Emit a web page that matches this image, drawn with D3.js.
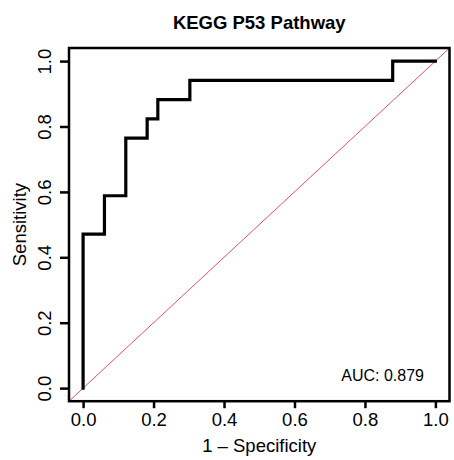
<!DOCTYPE html>
<html>
<head>
<meta charset="utf-8">
<script src="https://cdn.jsdelivr.net/npm/d3@7"></script>
<style>
  html, body { margin: 0; padding: 0; background: #ffffff; }
  svg { display: block; }
  text { font-family: "Liberation Sans", Arial, Helvetica, sans-serif; fill: #000; }
</style>
</head>
<body>
<svg id="chart" width="454" height="460"></svg>
<script>
// ROC curve points (false positive rate, true positive rate)
const fpr = [0, 0, 2/33, 2/33, 4/33, 4/33, 6/33, 6/33, 7/33, 7/33, 10/33, 10/33, 29/33, 29/33, 1];
const tpr = [0, 8/17, 8/17, 10/17, 10/17, 13/17, 13/17, 14/17, 14/17, 15/17, 15/17, 16/17, 16/17, 1, 1];
const tickValues = [0, 0.2, 0.4, 0.6, 0.8, 1.0];
const titleText = "KEGG P53 Pathway";
const xLabel = "1 \u2013 Specificity";
const yLabel = "Sensitivity";
const aucValue = 0.879;

const svg = d3.select("#chart");

// Data range 0..1 with 4% padding on each side, R style
const x = d3.scaleLinear().domain([-0.04, 1.04]).range([69.0, 449.5]);
const y = d3.scaleLinear().domain([-0.04, 1.04]).range([401.2, 48.0]);

const box = { x0: x(-0.04), x1: x(1.04), y0: y(1.04), y1: y(-0.04) };

svg.append("defs").append("clipPath").attr("id", "plotclip")
  .append("rect")
  .attr("x", box.x0).attr("y", box.y0)
  .attr("width", box.x1 - box.x0).attr("height", box.y1 - box.y0);

// Diagonal reference line
svg.append("line")
  .attr("clip-path", "url(#plotclip)")
  .attr("x1", x(-0.04)).attr("y1", y(-0.04))
  .attr("x2", x(1.04)).attr("y2", y(1.04))
  .attr("stroke", "#DF536B")
  .attr("stroke-width", 1);

// ROC step curve
const pts = fpr.map((f, i) => [f, tpr[i]]);
const line = d3.line().x(d => x(d[0])).y(d => y(d[1]));
svg.append("path")
  .datum(pts)
  .attr("d", line)
  .attr("fill", "none")
  .attr("stroke", "#000")
  .attr("stroke-width", 3.2)
  .attr("stroke-linejoin", "miter")
  .attr("stroke-linecap", "square");

// Bottom axis
const xAxis = d3.axisBottom(x).tickValues(tickValues)
  .tickFormat(d3.format(".1f")).tickSize(7).tickPadding(0);
const gx = svg.append("g").attr("transform", `translate(0,${box.y1})`).call(xAxis);
gx.select(".domain").remove();
gx.selectAll(".tick line").attr("stroke", "#000").attr("stroke-width", 2.5);
gx.selectAll(".tick text")
  .attr("y", 25).attr("dy", null)
  .style("font-size", "18.5px");

// Left axis
const yAxis = d3.axisLeft(y).tickValues(tickValues)
  .tickFormat(d3.format(".1f")).tickSize(9).tickPadding(0);
const gy = svg.append("g").attr("transform", `translate(${box.x0},0)`).call(yAxis);
gy.select(".domain").remove();
gy.selectAll(".tick line").attr("stroke", "#000").attr("stroke-width", 2.5);
gy.selectAll(".tick text")
  .attr("x", null).attr("dy", null)
  .attr("text-anchor", "middle")
  .attr("transform", "translate(-18,0) rotate(-90)")
  .style("font-size", "18.5px");

// Plot frame
svg.append("rect")
  .attr("x", box.x0).attr("y", box.y0)
  .attr("width", box.x1 - box.x0).attr("height", box.y1 - box.y0)
  .attr("fill", "none").attr("stroke", "#000").attr("stroke-width", 2.5);

// Title
svg.append("text")
  .attr("x", (box.x0 + box.x1) / 2).attr("y", 29)
  .attr("text-anchor", "middle")
  .style("font-size", "18.5px").style("font-weight", "bold")
  .text(titleText);

// Axis titles
svg.append("text")
  .attr("x", (box.x0 + box.x1) / 2).attr("y", 452)
  .attr("text-anchor", "middle")
  .style("font-size", "18.5px")
  .text(xLabel);

svg.append("text")
  .attr("transform", `translate(26,${(box.y0 + box.y1) / 2}) rotate(-90)`)
  .attr("text-anchor", "middle")
  .style("font-size", "18.5px")
  .text(yLabel);

// AUC annotation
svg.append("text")
  .attr("x", 424).attr("y", 381)
  .attr("text-anchor", "end")
  .style("font-size", "16px")
  .text("AUC: " + aucValue.toFixed(3));
</script>
</body>
</html>
